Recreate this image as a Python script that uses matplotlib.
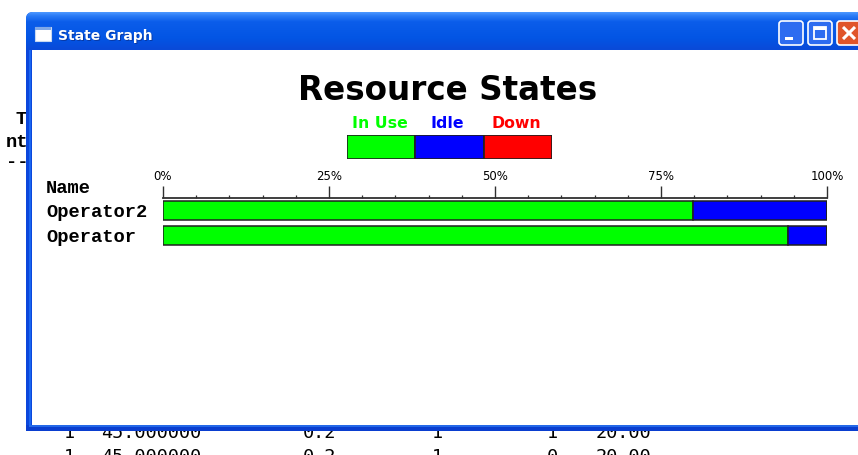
import numpy as np
import matplotlib
matplotlib.use("Agg")
from matplotlib import pyplot as plt
from matplotlib.patches import Rectangle, FancyBboxPatch

# --- DATA ---
resources = ['Operator2', 'Operator']
in_use = [79.8, 94.1]
idle = [20.2, 5.9]
down = [0.0, 0.0]

states = ['In Use', 'Idle', 'Down']
state_colors = ['#00FF00', '#0000FF', '#FF0000']

tick_values = [0, 25, 50, 75, 100]
tick_labels = ['0%', '25%', '50%', '75%', '100%']

# text of the console window behind the dialog
bg_rows = [
    ['1', '45.000000', '0.2', '1', '1', '20.00'],
    ['1', '45.000000', '0.2', '1', '0', '20.00'],
]
bg_cols_x = [64, 101, 303, 432, 547, 596]

W, H = 858, 455
fig = plt.figure(figsize=(W / 100, H / 100), dpi=100)
fig.patch.set_facecolor('white')

# full-figure overlay in pixel units (y downwards)
ov = fig.add_axes([0, 0, 1, 1])
ov.set_xlim(0, W)
ov.set_ylim(H, 0)
ov.axis('off')

mono = 'Liberation Mono'

# --- BACKGROUND TEXT (behind window) ---
ov.text(15, 124, 'T', family=mono, weight='bold', fontsize=13.5, va='baseline', zorder=1)
ov.text(6, 147, 'nt', family=mono, weight='bold', fontsize=13.5, va='baseline', zorder=1)
ov.text(6, 167, '--', family=mono, weight='bold', fontsize=13.5, va='baseline', zorder=1)
for r, row in enumerate(bg_rows):
    for x, val in zip(bg_cols_x, row):
        ov.text(x, 438 + r * 24, val, family='DejaVu Sans Mono', fontsize=13.3,
                va='baseline', zorder=1)

# --- WINDOW CHROME ---
# outer frame (rounded top)
frame = FancyBboxPatch((26, 12), 900, 419, boxstyle='round,pad=0,rounding_size=7',
                       facecolor='#0A4FE0', edgecolor='none', zorder=2)
ov.add_patch(frame)
# title bar gradient
grad = np.linspace(0, 1, 40).reshape(-1, 1)
cmap = matplotlib.colors.LinearSegmentedColormap.from_list(
    'xp', [(0, '#4A96FF'), (0.08, '#2C7CF6'), (0.25, '#0B5DEA'),
           (0.7, '#0355E4'), (1, '#0A4AD8')])
im = ov.imshow(grad, cmap=cmap, aspect='auto', extent=(26, 926, 50, 12), zorder=3)
tb_clip = FancyBboxPatch((26, 12), 900, 60, boxstyle='round,pad=0,rounding_size=7',
                         facecolor='none', edgecolor='none', transform=ov.transData)
im.set_clip_path(tb_clip)
ov.set_xlim(0, W)
ov.set_ylim(H, 0)
# side and bottom borders
ov.add_patch(Rectangle((26, 50), 6, 381, facecolor='#0B47DC', edgecolor='none', zorder=3))
ov.add_patch(Rectangle((29, 50), 2, 375, facecolor='#1A66F0', edgecolor='none', zorder=3))
ov.add_patch(Rectangle((26, 425), 900, 6, facecolor='#0A3ECF', edgecolor='none', zorder=3))
ov.add_patch(Rectangle((29, 425), 900, 2, facecolor='#2468E8', edgecolor='none', zorder=3))
# client area
ov.add_patch(Rectangle((32, 50), 900, 375, facecolor='white', edgecolor='none', zorder=4))

# title icon and caption
ov.add_patch(Rectangle((35, 27), 16, 14, facecolor='white', edgecolor='#C8D8F0', lw=0.8, zorder=5))
ov.add_patch(Rectangle((35, 27), 16, 3, facecolor='#7FA8E8', edgecolor='none', zorder=5))
ov.text(59, 41, 'State Graph', color='#0A2A80', weight='bold', fontsize=10, va='baseline',
        family='DejaVu Sans', zorder=5, alpha=0.6)
ov.text(58, 40, 'State Graph', color='white', weight='bold', fontsize=10, va='baseline',
        family='DejaVu Sans', zorder=6)

# caption buttons
for bx, face in [(779, '#2D6CF0'), (808, '#2D6CF0'), (837, '#E0552A')]:
    ov.add_patch(FancyBboxPatch((bx, 21), 24, 24, boxstyle='round,pad=0,rounding_size=3',
                                facecolor=face, edgecolor='white', lw=1.2, zorder=6))
ov.add_patch(Rectangle((785, 37), 8, 3, facecolor='white', edgecolor='none', zorder=7))
ov.add_patch(Rectangle((814, 27), 12, 12, facecolor='none', edgecolor='white', lw=1.3, zorder=7))
ov.add_patch(Rectangle((814, 27), 12, 2.5, facecolor='white', edgecolor='none', zorder=7))
ov.plot([843, 855], [27, 39], color='white', lw=2.2, zorder=7, solid_capstyle='butt')
ov.plot([843, 855], [39, 27], color='white', lw=2.2, zorder=7, solid_capstyle='butt')

# --- CHART TEXT ---
ov.text(448, 100, 'Resource States', weight='bold', fontsize=23.5, ha='center',
        va='baseline', family='DejaVu Sans', zorder=8)
legend_x = [380, 447.5, 516]
for lx, name, col in zip(legend_x, states, state_colors):
    ov.text(lx, 128, name, color=col, weight='bold', fontsize=11.3, ha='center',
            va='baseline', family='DejaVu Sans', zorder=8)

ov.text(46, 193, 'Name', family=mono, weight='bold', fontsize=13.5, va='baseline', zorder=8)
for i, name in enumerate(resources):
    ov.text(46, 217 + 25 * i, name, family=mono, weight='bold', fontsize=13.5,
            va='baseline', zorder=8)

# --- LEGEND BAR ---
lg = fig.add_axes([347 / W, 1 - 159 / H, 205 / W, 24 / H])
lg.barh(0, [1, 1, 1], left=[0, 1, 2], height=1, color=state_colors,
        edgecolor='#202020', linewidth=1.2)
lg.set_xlim(0, 3)
lg.set_ylim(-0.5, 0.5)
lg.axis('off')

# --- STATE BARS ---
ax = fig.add_axes([163 / W, 1 - 248 / H, 664 / W, 50 / H])
ypos = np.arange(len(resources))
ax.barh(ypos, in_use, height=0.76, color=state_colors[0], edgecolor='#202020', linewidth=1.1)
ax.barh(ypos, idle, left=in_use, height=0.76, color=state_colors[1],
        edgecolor='#202020', linewidth=1.1)
left_down = [a + b for a, b in zip(in_use, idle)]
ax.barh(ypos, down, left=left_down, height=0.76, color=state_colors[2],
        edgecolor='#202020', linewidth=1.1)

ax.set_xlim(0, 100)
ax.set_ylim(1.5, -0.5)
ax.set_facecolor('none')
for side in ['bottom', 'left', 'right']:
    ax.spines[side].set_visible(False)
ax.spines['top'].set_color('#303030')
ax.spines['top'].set_linewidth(1.3)
ax.xaxis.tick_top()
ax.set_xticks(tick_values)
ax.set_xticklabels(tick_labels, fontsize=8.5, family='DejaVu Sans')
ax.set_xticks(np.arange(0, 101, 5), minor=True)
ax.tick_params(axis='x', which='major', length=8.6, width=1, color='#303030', pad=2.5)
ax.tick_params(axis='x', which='minor', length=2.4, width=0.9, color='#303030')
ax.set_yticks([])

fig.savefig('out.png', dpi=100)
